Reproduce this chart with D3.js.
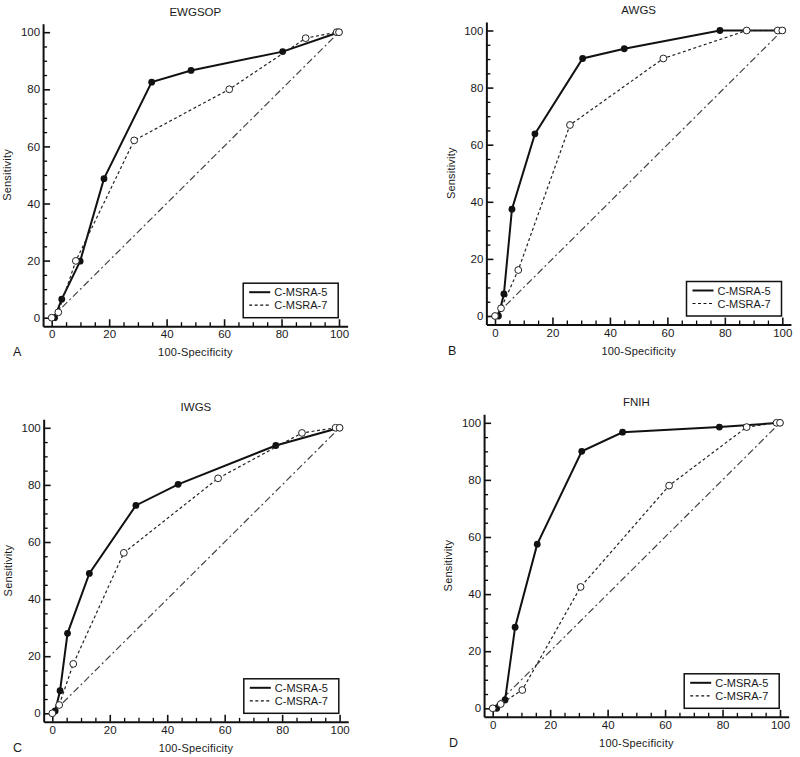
<!DOCTYPE html>
<html>
<meta charset="utf-8">
<head>
    <script src="https://d3js.org/d3.v7.min.js"></script>
    <style>
        body { margin: 0; background: #fff; }
        text { font-family: "Liberation Sans", Arial, sans-serif; fill: #1a1a1a; }
    </style>
</head>
<body>
    <script>
        // values
        var titles = ["EWGSOP", "AWGS", "IWGS", "FNIH"];
        var letters = ["A", "B", "C", "D"];
        var seriesNames = ["C-MSRA-5", "C-MSRA-7"];
        var majorTicks = [0, 20, 40, 60, 80, 100];
        var minorTicks = [5, 10, 15, 25, 30, 35, 45, 50, 55, 65, 70, 75, 85, 90, 95];

        var ewgsop5 = [[1, 0], [3.5, 6.5], [9.9, 19.8], [18.2, 48.7], [34.8, 82.5], [48.5, 86.6], [80.4, 93.2], [100, 100]];
        var ewgsop7 = [[0, 0], [2.3, 1.9], [8.4, 19.9], [28.7, 62.1], [61.8, 80], [88.4, 97.9], [99.2, 100], [100, 100]];
        var awgs5 = [[1.2, 0], [3.1, 7.7], [5.9, 37.4], [13.9, 63.8], [30.5, 90.2], [45, 93.6], [78.3, 100], [100, 100]];
        var awgs7 = [[0, 0], [2.1, 2.7], [8.1, 16.1], [26.1, 66.9], [58.6, 90.2], [87.6, 100], [98.4, 100], [100, 100]];
        var iwgs5 = [[1, 0.8], [2.7, 7.9], [5.3, 28], [12.9, 49], [29.1, 72.8], [43.8, 80.2], [77.8, 93.8], [100, 100]];
        var iwgs7 = [[0, 0], [2.4, 2.9], [7.3, 17.3], [24.9, 56.2], [57.7, 82.3], [86.9, 98.2], [98.6, 100], [100, 100]];
        var fnih5 = [[1.4, 0], [4.3, 2.9], [7.8, 28.4], [15.5, 57.5], [31, 90], [45.2, 96.7], [78.9, 98.5], [100, 100]];
        var fnih7 = [[0, 0], [2.8, 1.5], [10.3, 6.4], [30.6, 42.5], [61.4, 78], [88.4, 98.5], [98.8, 100], [100, 100]];
        var diagonal = [[0, 0], [100, 100]];

        var curves5 = [ewgsop5, awgs5, iwgs5, fnih5];
        var curves7 = [ewgsop7, awgs7, iwgs7, fnih7];

        var width = 800,
            height = 757,
            w = 287.3,
            h = 285.5;

        // pixel position of (0,0) for each panel
        var frames = [
            {x0: 51.7, y0: 317.7, lx: 13},
            {x0: 495, y0: 316, lx: 448},
            {x0: 52.3, y0: 713.3, lx: 13},
            {x0: 492.7, y0: 708.3, lx: 449}
        ];

        var svg = d3.select("body").append("svg")
            .attr("width", width)
            .attr("height", height);

        frames.forEach(function(f, i) {
            var x = d3.scaleLinear().domain([-3, 103]).range([f.x0 - 3 * w / 100, f.x0 + 103 * w / 100]);
            var y = d3.scaleLinear().domain([-3, 103]).range([f.y0 + 3 * h / 100, f.y0 - 103 * h / 100]);

            var g = svg.append("g");
            var line = d3.line().x(function(d) { return x(d[0]); }).y(function(d) { return y(d[1]); });

            // minor ticks
            g.append("g")
                .attr("transform", "translate(0," + y(-3) + ")")
                .call(d3.axisBottom(x).tickValues(minorTicks).tickSize(-4).tickSizeOuter(0).tickFormat(""))
                .call(function(a) { a.select(".domain").remove(); a.selectAll("line").attr("stroke-width", 1.3); });
            g.append("g")
                .attr("transform", "translate(" + x(-3) + ",0)")
                .call(d3.axisLeft(y).tickValues(minorTicks).tickSize(-4).tickSizeOuter(0).tickFormat(""))
                .call(function(a) { a.select(".domain").remove(); a.selectAll("line").attr("stroke-width", 1.3); });

            // major ticks + axis lines
            var xa = g.append("g")
                .attr("transform", "translate(0," + y(-3) + ")")
                .call(d3.axisBottom(x).tickValues(majorTicks).tickSize(-7).tickSizeOuter(0).tickPadding(4));
            var ya = g.append("g")
                .attr("transform", "translate(" + x(-3) + ",0)")
                .call(d3.axisLeft(y).tickValues(majorTicks).tickSize(-7).tickSizeOuter(0).tickPadding(3));
            [xa, ya].forEach(function(a) {
                a.select(".domain").attr("stroke", "#111").attr("stroke-width", 2);
                a.selectAll("line").attr("stroke", "#111").attr("stroke-width", 1.6);
                a.selectAll("text").attr("font-size", "11.5px").attr("fill", "#1a1a1a")
                    .attr("font-family", "Liberation Sans, Arial, sans-serif");
            });

            // reference diagonal
            g.append("path")
                .attr("d", line(diagonal))
                .attr("fill", "none")
                .attr("stroke", "#444")
                .attr("stroke-width", 1.2)
                .attr("stroke-dasharray", "7,3,2,3");

            // C-MSRA-5
            g.append("path")
                .attr("d", line(curves5[i]))
                .attr("fill", "none")
                .attr("stroke", "#111")
                .attr("stroke-width", 2);
            g.selectAll(".p5")
                .data(curves5[i])
                .enter().append("circle")
                .attr("cx", function(d) { return x(d[0]); })
                .attr("cy", function(d) { return y(d[1]); })
                .attr("r", 3.4)
                .attr("fill", "#111");

            // C-MSRA-7
            g.append("path")
                .attr("d", line(curves7[i]))
                .attr("fill", "none")
                .attr("stroke", "#222")
                .attr("stroke-width", 1.2)
                .attr("stroke-dasharray", "3,2.5");
            g.selectAll(".p7")
                .data(curves7[i])
                .enter().append("circle")
                .attr("cx", function(d) { return x(d[0]); })
                .attr("cy", function(d) { return y(d[1]); })
                .attr("r", 3.4)
                .attr("fill", "#fff")
                .attr("stroke", "#222")
                .attr("stroke-width", 1);

            // titles and labels
            g.append("text")
                .attr("x", x(50)).attr("y", y(100) - 16.5)
                .attr("text-anchor", "middle")
                .attr("font-size", "11.5px")
                .text(titles[i]);
            g.append("text")
                .attr("x", x(50)).attr("y", y(-3) + 30)
                .attr("text-anchor", "middle")
                .attr("font-size", "11px")
                .attr("letter-spacing", "0.2px")
                .text("100-Specificity");
            g.append("text")
                .attr("transform", "translate(" + (f.x0 - 40.5) + "," + y(50) + ") rotate(-90)")
                .attr("text-anchor", "middle")
                .attr("font-size", "11px")
                .attr("letter-spacing", "0.2px")
                .text("Sensitivity");
            g.append("text")
                .attr("x", f.lx).attr("y", y(-3) + 30)
                .attr("font-size", "12.5px")
                .text(letters[i]);

            // legend
            var lg = g.append("g").attr("transform", "translate(" + (f.x0 + 191.5) + "," + (f.y0 - 34.5) + ")");
            lg.append("rect")
                .attr("width", 95).attr("height", 34.5)
                .attr("fill", "#fff")
                .attr("stroke", "#111")
                .attr("stroke-width", 1.5);
            seriesNames.forEach(function(name, k) {
                var ly = 9 + k * 13;
                lg.append("line")
                    .attr("x1", 6).attr("x2", 27).attr("y1", ly).attr("y2", ly)
                    .attr("stroke", "#111")
                    .attr("stroke-width", k == 0 ? 2 : 1.2)
                    .attr("stroke-dasharray", k == 0 ? null : "3,2.5");
                lg.append("text")
                    .attr("x", 31).attr("y", ly + 4)
                    .attr("font-size", "11px")
                    .text(name);
            });
        });
    </script>
</body>
</html>
